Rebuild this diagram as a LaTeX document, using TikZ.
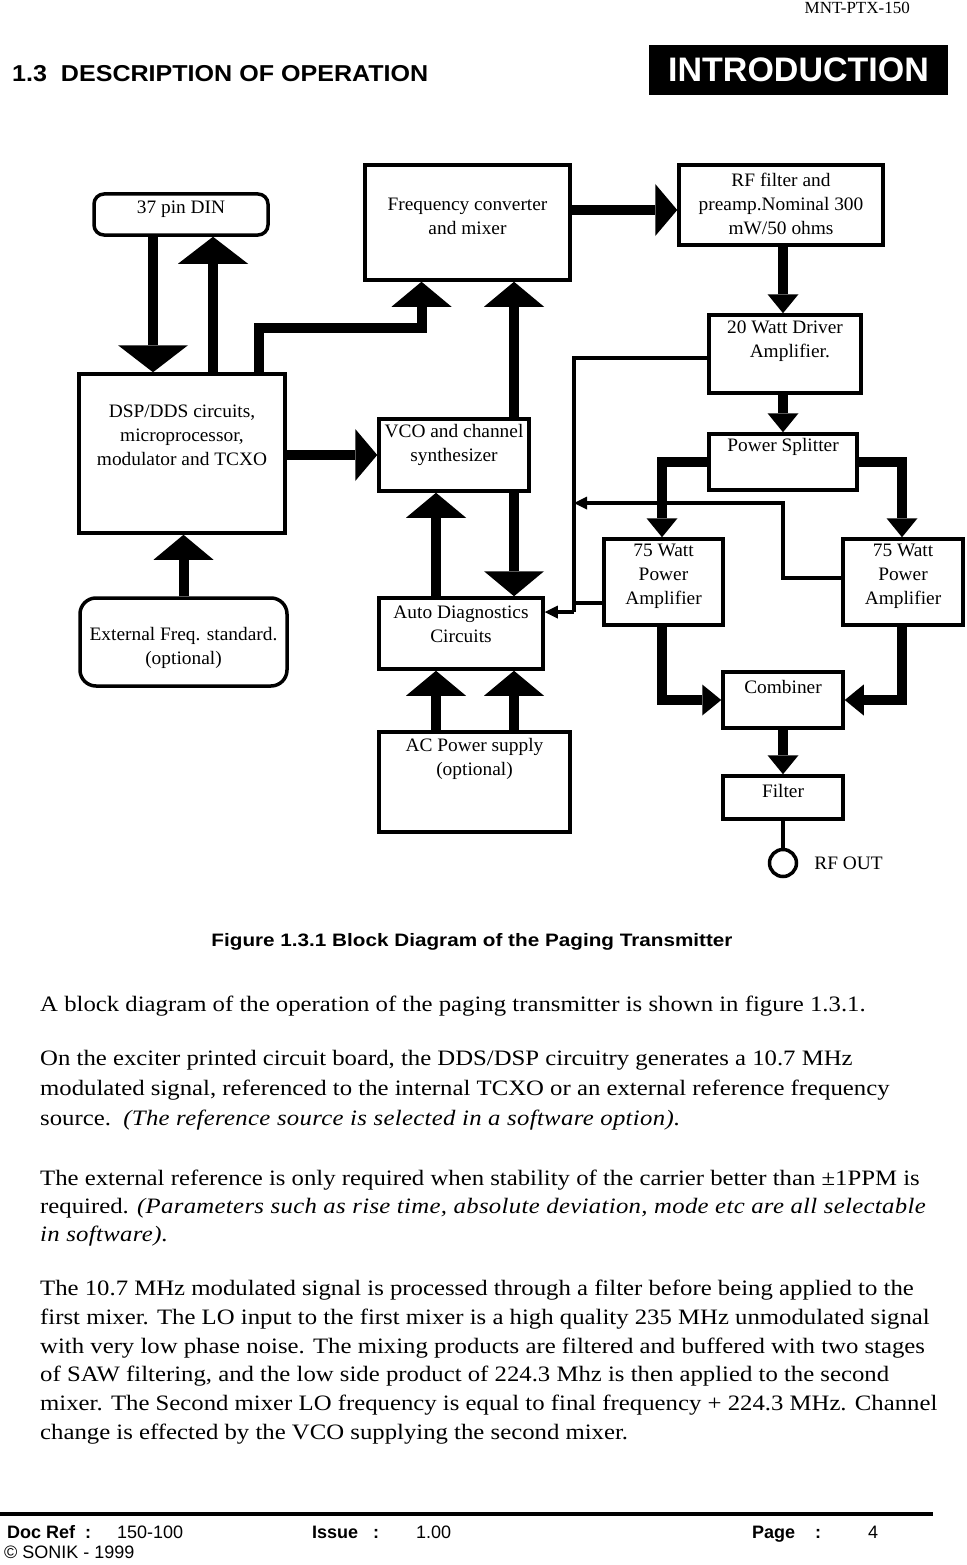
\documentclass[tikz,border=0pt]{standalone}
\usepackage{fontspec}
\setmainfont{Liberation Serif}
\newfontfamily\hdfont[FakeStretch=1.09]{Liberation Sans}
\newfontfamily\tabfont[FakeStretch=1.0]{Liberation Sans}
\newfontfamily\capfont[FakeStretch=1.15]{Liberation Sans}
\newfontfamily\lblfont[FakeStretch=1.02]{Liberation Serif}
\newfontfamily\bodyfont[FakeStretch=1.125]{Liberation Serif}
\newcommand{\remark}[1]{{\itshape\addfontfeature{LetterSpace=1.5}#1}}
\usetikzlibrary{arrows.meta,calc,positioning}

\tikzset{
  box/.style={draw, line width=3.5pt, inner sep=0pt},
  rbox/.style={box, rounded corners=10pt},
  lbl/.style={align=center, inner sep=0pt, font=\lblfont\fontsize{19}{24}\selectfont},
  bigarrow/.style={line width=10pt, -{Triangle[width=60pt,length=25pt,line width=0pt]}},
  widearrow/.style={line width=10pt, -{Triangle[width=70pt,length=27pt,line width=0pt]}},
  midarrow/.style={line width=10pt, -{Triangle[width=52pt,length=22pt,line width=0pt]}},
  smallarrow/.style={line width=10pt, -{Triangle[width=31pt,length=19pt,line width=0pt]}},
  thinline/.style={line width=4pt},
  thinarrow/.style={thinline, -{Triangle[width=13pt,length=13pt,line width=0pt]}},
  bodyline/.style={anchor=base west, inner sep=0pt, font=\bodyfont\fontsize{22}{28}\selectfont},
  footb/.style={anchor=base west, inner sep=0pt, font=\tabfont\bfseries\fontsize{18}{20}\selectfont},
  footn/.style={anchor=base west, inner sep=0pt, font=\tabfont\fontsize{18}{20}\selectfont},
}

\begin{document}
\begin{tikzpicture}[x=1pt,y=-1pt]
  \useasboundingbox[fill=white] (0,0) rectangle (966,1565);

  % page header
  \node[anchor=base east, inner sep=0pt, font=\fontsize{17}{20}\selectfont] (docid) at (910,14) {MNT-PTX-150};
  \node[anchor=base west, inner sep=0pt, font=\hdfont\bfseries\fontsize{23}{26}\selectfont] (sect) at (12,82) {1.3\ \ DESCRIPTION OF OPERATION};
  \node[fill=black, text=white, minimum width=299pt, minimum height=50pt, inner sep=0pt,
        font=\tabfont\bfseries\fontsize{34}{38}\selectfont] (intro) at (798.5,70) {INTRODUCTION};

  % blocks
  \node[rbox, minimum width=174pt, minimum height=41pt] (din) at (181,214.5) {};
  \node[box, minimum width=205pt, minimum height=115pt] (fcm) at (467.5,222.5) {};
  \node[box, minimum width=204pt, minimum height=80pt] (rff) at (781,205) {};
  \node[box, minimum width=152pt, minimum height=78pt] (drv) at (785,354) {};
  \node[box, minimum width=206pt, minimum height=159pt] (dsp) at (182,453.5) {};
  \node[box, minimum width=150pt, minimum height=72pt] (vco) at (454,455) {};
  \node[box, minimum width=148pt, minimum height=56pt] (spl) at (783,462) {};
  \node[box, minimum width=119pt, minimum height=86pt] (pa1) at (663.5,582) {};
  \node[box, minimum width=120pt, minimum height=86pt] (pa2) at (903,582) {};
  \node[rbox, rounded corners=16pt, minimum width=207pt, minimum height=88pt] (ext) at (183.5,642) {};
  \node[box, minimum width=164pt, minimum height=71pt] (adc) at (461,633.5) {};
  \node[box, minimum width=120pt, minimum height=56pt] (cmb) at (783,700) {};
  \node[box, minimum width=191pt, minimum height=100pt] (acp) at (474.5,782) {};
  \node[box, minimum width=120pt, minimum height=43pt] (flt) at (783,797.5) {};
  \node[draw, circle, line width=3.5pt, minimum size=27pt, inner sep=0pt] (rfo) at (783,863) {};

  % block texts
  \node[lbl] (din-t) at ([yshift=5.5pt]din.center) {37 pin DIN};
  \node[lbl] (fcm-t) at ([yshift=6.5pt]fcm.center) {Frequency converter\\and mixer};
  \node[lbl] (rff-t) at ([yshift=1pt]rff.center) {RF filter and\\preamp.Nominal 300\\mW/50 ohms};
  \node[lbl] (drv-t) at ([yshift=13pt]drv.center) {20 Watt Driver\\\ \ Amplifier.};
  \node[lbl] (dsp-t) at ([yshift=18.5pt]dsp.center) {DSP/DDS circuits,\\microprocessor,\\modulator and TCXO};
  \node[lbl] (vco-t) at ([yshift=10pt]vco.center) {VCO and channel\\synthesizer};
  \node[lbl] (spl-t) at ([yshift=15pt]spl.center) {Power Splitter};
  \node[lbl] (pa1-t) at ([yshift=6pt]pa1.center) {75 Watt\\Power\\Amplifier};
  \node[lbl] (pa2-t) at ([yshift=6pt]pa2.center) {75 Watt\\Power\\Amplifier};
  \node[lbl] (ext-t) at ([yshift=-6pt]ext.center) {External Freq. standard.\\(optional)};
  \node[lbl] (adc-t) at ([yshift=9.5pt]adc.center) {Auto Diagnostics\\Circuits};
  \node[lbl] (cmb-t) at ([yshift=13pt]cmb.center) {Combiner};
  \node[lbl] (acp-t) at ([yshift=23pt]acp.center) {AC Power supply\\(optional)};
  \node[lbl] (flt-t) at ([yshift=6.5pt]flt.center) {Filter};
  \node[lbl, right=16pt of rfo] (rfo-t) {RF OUT};

  % bus arrows
  \draw[widearrow] ([xshift=-28pt]din.south) -- ([xshift=-28pt]din.south |- dsp.north);
  \draw[widearrow] ([xshift=32pt]din.south |- dsp.north) -- ([xshift=32pt]din.south);
  \draw[bigarrow] ([xshift=77pt]dsp.north) |- ($(fcm.south)+(-46,46)$) -- ([xshift=-46pt]fcm.south);
  \draw[bigarrow] ([xshift=60pt]vco.north) -- ([xshift=60pt]vco.north |- fcm.south);
  \draw[midarrow] (dsp.east |- vco.west) -- (vco.west);
  \draw[midarrow] ([yshift=-5pt]fcm.east |- rff.west) -- ([yshift=-5pt]rff.west);
  \draw[bigarrow] ([xshift=-25pt]adc.north) -- ([xshift=-25pt]adc.north |- vco.south);
  \draw[bigarrow] ([xshift=60pt]vco.south) -- ([xshift=60pt]vco.south |- adc.north);
  \draw[bigarrow] ([xshift=-38.5pt]acp.north) -- ([xshift=-38.5pt]acp.north |- adc.south);
  \draw[bigarrow] ([xshift=39.5pt]acp.north) -- ([xshift=39.5pt]acp.north |- adc.south);
  \draw[bigarrow] (ext.north) -- (ext.north |- dsp.south);

  % RF chain
  \draw[smallarrow] (rff.south -| spl.north) -- (spl.north |- drv.north);
  \draw[smallarrow] (spl.north |- drv.south) -- (spl.north);
  \draw[smallarrow] (spl.west) -| ([xshift=-1.5pt]pa1.north);
  \draw[smallarrow] (spl.east) -| ([xshift=-1pt]pa2.north);
  \draw[smallarrow] ([xshift=-1.5pt]pa1.south) |- (cmb.west);
  \draw[smallarrow] ([xshift=-1pt]pa2.south) |- (cmb.east);
  \draw[smallarrow] (cmb.south) -- (flt.north);
  \draw[line width=3.5pt] (flt.south) -- (rfo.north);

  % monitor lines to diagnostics
  \coordinate (rtop) at (574,358);
  \coordinate (rmid) at (574,503);
  \coordinate (rbot) at (574,612);
  \draw[thinline] (drv.west |- rtop) -- (rtop) -- (rbot);
  \draw[thinarrow] (rbot) -- (rbot -| adc.east);
  \draw[thinarrow] ([yshift=4pt]pa2.west) -| (spl.south |- rmid) -- (rmid);
  \draw[thinline] ([yshift=-21pt]pa1.west) -- ([yshift=-21pt]pa1.west -| rtop);

  % caption
  \node[font=\capfont\bfseries\fontsize{18}{20}\selectfont, inner sep=0pt] (cap) at (472,942)
    {Figure 1.3.1 Block Diagram of the Paging Transmitter};

  % body text
  \foreach \y/\txt [count=\i] in {
    1011/{A block diagram of the operation of the paging transmitter is shown in figure 1.3.1.},
    1065/{On the exciter printed circuit board, the DDS/DSP circuitry generates a 10.7 MHz},
    1095/{modulated signal, referenced to the internal TCXO or an external reference frequency},
    1125/{source.\ \ \remark{(The reference source is selected in a software option).}},
    1185/{The external reference is only required when stability of the carrier better than ±1PPM is},
    1213/{required. \remark{(Parameters such as rise time, absolute deviation, mode etc are all selectable}},
    1241/{\remark{in software).}},
    1295/{The 10.7 MHz modulated signal is processed through a filter before being applied to the},
    1324/{first mixer. The LO input to the first mixer is a high quality 235 MHz unmodulated signal},
    1353/{with very low phase noise. The mixing products are filtered and buffered with two stages},
    1381/{of SAW filtering, and the low side product of 224.3 Mhz is then applied to the second},
    1410/{mixer. The Second mixer LO frequency is equal to final frequency + 224.3 MHz. Channel},
    1439/{change is effected by the VCO supplying the second mixer.}}
    \node[bodyline] (body\i) at (40,\y) {\txt};

  % page footer
  \draw[line width=4pt] (0,1514) coordinate (fl) -- (933,1514) coordinate (fr);
  \node[footb] (dref) at (7,1538) {Doc Ref\ \ :};
  \node[footn] (drefv) at (117,1538) {150-100};
  \node[footb] (iss) at (312,1538) {Issue\ \ \ :};
  \node[footn] (issv) at (416,1538) {1.00};
  \node[footb] (pg) at (752,1538) {Page\ \ \ \ :};
  \node[footn] (pgv) at (868,1538) {4};
  \node[footn] (copy) at (4,1558) {\textcopyright{} SONIK - 1999};
\end{tikzpicture}
\end{document}
